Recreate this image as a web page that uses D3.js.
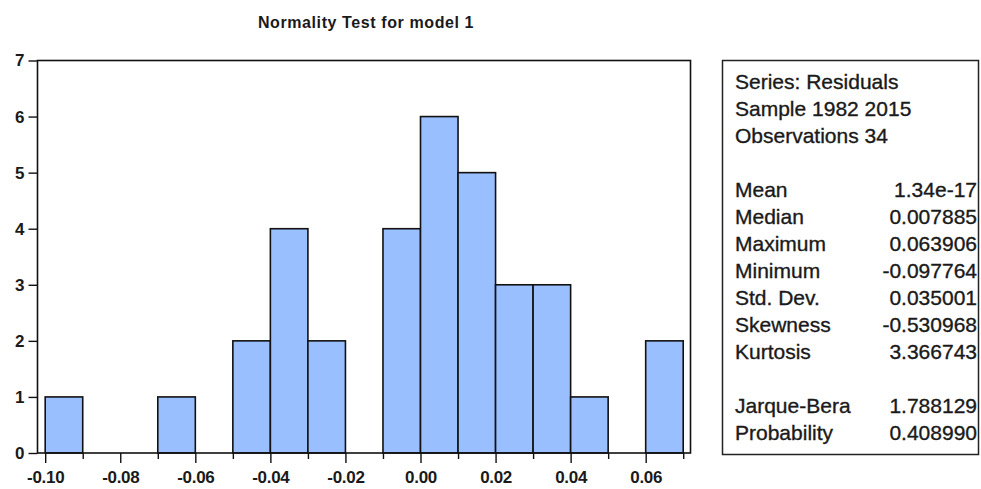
<!DOCTYPE html>
<html>
<head>
<meta charset="utf-8">
<script src="https://cdn.jsdelivr.net/npm/d3@7"></script>
<style>
  body { margin: 0; background: #fff; }
  svg { display: block; font-family: Arial, "Liberation Sans", sans-serif; }
</style>
</head>
<body>
<div id="chart-area"></div>
<script>
// histogram bins (lower edge, width 0.01) and counts
const binLower = [-0.10, -0.09, -0.08, -0.07, -0.06, -0.05, -0.04, -0.03, -0.02,
                  -0.01, 0.00, 0.01, 0.02, 0.03, 0.04, 0.05, 0.06];
const binCounts = [1, 0, 0, 1, 0, 2, 4, 2, 0, 4, 6, 5, 3, 3, 1, 0, 2];
const binWidth = 0.01;

// axis ticks
const xMajorTicks = [-0.10, -0.08, -0.06, -0.04, -0.02, 0.00, 0.02, 0.04, 0.06];
const xMinorTicks = [-0.09, -0.07, -0.05, -0.03, -0.01, 0.01, 0.03, 0.05, 0.07];
const yTicks = [0, 1, 2, 3, 4, 5, 6, 7];

// stats box
const headerLines = ["Series: Residuals", "Sample 1982 2015", "Observations 34"];
const statLabels = ["Mean", "Median", "Maximum", "Minimum", "Std. Dev.", "Skewness", "Kurtosis"];
const statValues = ["1.34e-17", "0.007885", "0.063906", "-0.097764", "0.035001", "-0.530968", "3.366743"];
const testLabels = ["Jarque-Bera", "Probability"];
const testValues = ["1.788129", "0.408990"];

(function () {
  const W = 981, H = 489;
  const margin = { top: 60.5, left: 37.5 };
  const width = 653, height = 392.5;

  const svg = d3.select("#chart-area").append("svg")
    .attr("width", W).attr("height", H);

  // title
  svg.append("text")
    .attr("x", 366).attr("y", 28)
    .attr("text-anchor", "middle")
    .attr("font-size", 16).attr("font-weight", "bold")
    .attr("letter-spacing", 0.6)
    .attr("fill", "#1a1a1a")
    .text("Normality Test for model 1");

  const g = svg.append("g")
    .attr("transform", `translate(${margin.left},${margin.top})`);

  const x = d3.scaleLinear().domain([-0.10205, 0.07194]).range([0, width]);
  const y = d3.scaleLinear().domain([0, 7]).range([height, 0]);

  // bars
  g.selectAll("rect.bar")
    .data(binLower.map((d, i) => ({ x0: d, n: binCounts[i] })).filter(d => d.n > 0))
    .enter().append("rect")
    .attr("class", "bar")
    .attr("x", d => x(d.x0))
    .attr("y", d => y(d.n))
    .attr("width", d => x(d.x0 + binWidth) - x(d.x0))
    .attr("height", d => y(0) - y(d.n))
    .attr("fill", "#99bfff")
    .attr("stroke", "#111")
    .attr("stroke-width", 1.6);

  // frame
  g.append("rect")
    .attr("width", width).attr("height", height)
    .attr("fill", "none").attr("stroke", "#111").attr("stroke-width", 1.6);

  // y axis
  const yAxis = g.append("g")
    .call(d3.axisLeft(y).tickValues(yTicks).tickFormat(d3.format("d")).tickSize(9).tickPadding(4));
  yAxis.select(".domain").remove();
  yAxis.selectAll("line").attr("stroke", "#111").attr("stroke-width", 1.4);
  yAxis.selectAll("text")
    .attr("font-size", 17).attr("font-weight", "bold").attr("fill", "#1a1a1a");

  // x axis, major ticks
  const xAxis = g.append("g")
    .attr("transform", `translate(0,${height})`)
    .call(d3.axisBottom(x).tickValues(xMajorTicks).tickFormat(d3.format(".2f")).tickSize(10).tickPadding(8));
  xAxis.select(".domain").remove();
  xAxis.selectAll("line").attr("stroke", "#111").attr("stroke-width", 1.4);
  xAxis.selectAll("text")
    .attr("font-size", 17).attr("font-weight", "bold").attr("fill", "#1a1a1a")
    .attr("letter-spacing", -0.3)
    .text(d => d3.format(".2f")(d).replace("−", "-"));

  // x axis, minor ticks
  const xMinor = g.append("g")
    .attr("transform", `translate(0,${height})`)
    .call(d3.axisBottom(x).tickValues(xMinorTicks).tickFormat("").tickSize(6));
  xMinor.select(".domain").remove();
  xMinor.selectAll("line").attr("stroke", "#111").attr("stroke-width", 1.4);

  // stats box
  const box = svg.append("g");
  box.append("rect")
    .attr("x", 722.5).attr("y", 60.5).attr("width", 256).attr("height", 394)
    .attr("fill", "#fff").attr("stroke", "#222").attr("stroke-width", 1.5);

  const textLeft = 735, textRight = 977, fs = 21;
  const lineY = d3.scaleLinear().domain([0, 1]).range([82, 109]);

  const styleText = sel => sel
    .attr("dy", "0.35em").attr("font-size", fs).attr("fill", "#1a1a1a")
    .attr("stroke", "#1a1a1a").attr("stroke-width", 0.35);

  box.selectAll("text.hdr").data(headerLines).enter().append("text")
    .attr("class", "hdr")
    .attr("x", textLeft).attr("y", (d, i) => lineY(i))
    .call(styleText)
    .text(d => d);

  const statRows = statLabels.map((d, i) => ({ label: d, value: statValues[i], row: i + 4 }))
    .concat(testLabels.map((d, i) => ({ label: d, value: testValues[i], row: i + 12 })));

  box.selectAll("text.lbl").data(statRows).enter().append("text")
    .attr("class", "lbl")
    .attr("x", textLeft).attr("y", d => lineY(d.row))
    .call(styleText)
    .text(d => d.label);

  box.selectAll("text.val").data(statRows).enter().append("text")
    .attr("class", "val")
    .attr("x", textRight).attr("y", d => lineY(d.row))
    .attr("text-anchor", "end")
    .call(styleText)
    .text(d => d.value);
})();
</script>
</body>
</html>
